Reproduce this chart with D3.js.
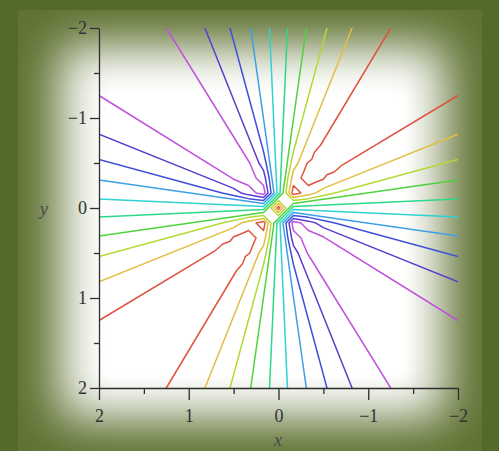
<!DOCTYPE html>
<html>
<head>
<meta charset="utf-8">
<script src="https://cdn.jsdelivr.net/npm/d3@7"></script>
<style>
  html, body { margin: 0; padding: 0; background: #546a2b; }
  svg { display: block; }
</style>
</head>
<body>
<svg id="chart" width="499" height="451"></svg>
<script>
// Contour levels (high to low) and the colour used for each level
const levels = [0.9, 0.7, 0.5, 0.3, 0.1, -0.1, -0.3, -0.5, -0.7, -0.9];
const levelColors = ["#de543f", "#e4bd3e", "#b2da34", "#4fd23e", "#2cd889",
                     "#2fd2d2", "#3da0e4", "#3d50da", "#5a3dd0", "#c052dc"];

// Axis ticks
const xTicks = [2, 1, 0, -1, -2];
const xMinorTicks = [1.5, 0.5, -0.5, -1.5];
const yTicks = [-2, -1, 0, 1, 2];
const yMinorTicks = [-1.5, -0.5, 0.5, 1.5];

// Contour polylines for each level, as [x, y] pairs in plot units
const lines09 = [
  [[-1.25, -2], [-0.47, -0.7], [-0.4, -0.62], [-0.37, -0.54], [-0.32, -0.5], [-0.28, -0.4],
   [-0.25, -0.333], [-0.333, -0.25], [-0.4, -0.28], [-0.5, -0.32], [-0.54, -0.37],
   [-0.62, -0.4], [-0.7, -0.47], [-2, -1.25]],
  [[-0.25, -0.167], [-0.167, -0.25], [-0.15, -0.167], [-0.167, -0.15], [-0.25, -0.167]],
  [[0.017, 0], [0, 0.017], [-0.017, 0], [0, -0.017], [0.017, 0]],
  [[1.25, 2], [0.47, 0.7], [0.4, 0.62], [0.37, 0.54], [0.32, 0.5], [0.28, 0.4],
   [0.25, 0.333], [0.333, 0.25], [0.4, 0.28], [0.5, 0.32], [0.54, 0.37],
   [0.62, 0.4], [0.7, 0.47], [2, 1.25]],
  [[0.25, 0.167], [0.167, 0.25], [0.15, 0.167], [0.167, 0.15], [0.25, 0.167]]
];
const lines07 = [
  [[-2, -0.82], [-0.5, -0.218], [-0.417, -0.167], [-0.333, -0.146], [-0.167, -0.117],
   [-0.117, -0.167], [-0.146, -0.333], [-0.167, -0.417], [-0.218, -0.5], [-0.82, -2]],
  [[2, 0.82], [0.5, 0.218], [0.417, 0.167], [0.333, 0.146], [0.167, 0.117],
   [0.117, 0.167], [0.146, 0.333], [0.167, 0.417], [0.218, 0.5], [0.82, 2]],
  [[0.05, 0], [0, 0.05], [-0.05, 0], [0, -0.05], [0.05, 0]]
];
const lines05 = [
  [[-2, -0.54], [-0.628, -0.167], [-0.5, -0.139], [-0.333, -0.104], [-0.167, -0.083],
   [-0.083, -0.167], [-0.104, -0.333], [-0.139, -0.5], [-0.167, -0.628], [-0.54, -2]],
  [[2, 0.54], [0.628, 0.167], [0.5, 0.139], [0.333, 0.104], [0.167, 0.083],
   [0.083, 0.167], [0.104, 0.333], [0.139, 0.5], [0.167, 0.628], [0.54, 2]],
  [[0.083, 0], [0, 0.083], [-0.083, 0], [0, -0.083], [0.083, 0]]
];
const lines03 = [
  [[-2, -0.31], [-0.167, -0.05], [-0.117, 0], [0, 0.117], [0.05, 0.167], [0.31, 2]],
  [[2, 0.31], [0.167, 0.05], [0.117, 0], [0, -0.117], [-0.05, -0.167], [-0.31, -2]]
];
const lines01 = [
  [[-2, -0.1], [-0.167, -0.017], [-0.15, 0], [0, 0.15], [0.017, 0.167], [0.1, 2]],
  [[2, 0.1], [0.167, 0.017], [0.15, 0], [0, -0.15], [-0.017, -0.167], [-0.1, -2]]
];
const linesM01 = [
  [[2, -0.1], [0.167, -0.017], [0.017, -0.167], [0.1, -2]],
  [[-2, 0.1], [-0.167, 0.017], [-0.017, 0.167], [-0.1, 2]]
];
const linesM03 = [
  [[2, -0.31], [0.167, -0.05], [0.05, -0.167], [0.31, -2]],
  [[-2, 0.31], [-0.167, 0.05], [-0.05, 0.167], [-0.31, 2]]
];
const linesM05 = [
  [[2, -0.54], [0.628, -0.167], [0.5, -0.139], [0.333, -0.104], [0.167, -0.083],
   [0.083, -0.167], [0.104, -0.333], [0.139, -0.5], [0.167, -0.628], [0.54, -2]],
  [[-2, 0.54], [-0.628, 0.167], [-0.5, 0.139], [-0.333, 0.104], [-0.167, 0.083],
   [-0.083, 0.167], [-0.104, 0.333], [-0.139, 0.5], [-0.167, 0.628], [-0.54, 2]]
];
const linesM07 = [
  [[2, -0.82], [0.5, -0.218], [0.417, -0.167], [0.333, -0.146], [0.167, -0.117],
   [0.117, -0.167], [0.146, -0.333], [0.167, -0.417], [0.218, -0.5], [0.82, -2]],
  [[-2, 0.82], [-0.5, 0.218], [-0.417, 0.167], [-0.333, 0.146], [-0.167, 0.117],
   [-0.117, 0.167], [-0.146, 0.333], [-0.167, 0.417], [-0.218, 0.5], [-0.82, 2]]
];
const linesM09 = [
  [[2, -1.25], [0.5, -0.32], [0.333, -0.25], [0.25, -0.167], [0.167, -0.15],
   [0.15, -0.167], [0.167, -0.25], [0.25, -0.333], [0.32, -0.5], [1.25, -2]],
  [[-2, 1.25], [-0.5, 0.32], [-0.333, 0.25], [-0.25, 0.167], [-0.167, 0.15],
   [-0.15, 0.167], [-0.167, 0.25], [-0.25, 0.333], [-0.32, 0.5], [-1.25, 2]]
];
const levelLines = [lines09, lines07, lines05, lines03, lines01,
                    linesM01, linesM03, linesM05, linesM07, linesM09];

const W = 499, H = 451;
const svg = d3.select("#chart");

// ---- framed, glowing background ----
const defs = svg.append("defs");
defs.append("filter").attr("id", "glow")
  .attr("x", "-50%").attr("y", "-50%").attr("width", "200%").attr("height", "200%")
  .append("feGaussianBlur").attr("stdDeviation", 24);
defs.append("filter").attr("id", "soft")
  .attr("x", "-20%").attr("y", "-20%").attr("width", "140%").attr("height", "140%")
  .append("feGaussianBlur").attr("stdDeviation", 5);
defs.append("clipPath").attr("id", "panelClip")
  .append("rect").attr("x", 18).attr("y", 10).attr("width", 464).attr("height", 441);

svg.append("rect").attr("width", W).attr("height", H).attr("fill", "#546a2b");
const panel = svg.append("g").attr("clip-path", "url(#panelClip)");
panel.append("rect").attr("x", 18).attr("y", 10).attr("width", 464).attr("height", 441)
  .attr("fill", "#5f7232");
panel.append("rect").attr("x", 60).attr("y", 46).attr("width", 385).attr("height", 372)
  .attr("fill", "#ffffff").attr("filter", "url(#glow)");
panel.append("rect").attr("x", 102).attr("y", 92).attr("width", 306).attr("height", 286)
  .attr("fill", "#ffffff").attr("filter", "url(#soft)");

// ---- scales ----
const x = d3.scaleLinear().domain([2, -2]).range([99, 458]);
const y = d3.scaleLinear().domain([-2, 2]).range([28, 388]);

// ---- contour lines ----
defs.append("clipPath").attr("id", "plotClip")
  .append("rect").attr("x", 99).attr("y", 28).attr("width", 359).attr("height", 360);

const line = d3.line().x(d => x(d[0])).y(d => y(d[1]));
const plot = svg.append("g").attr("clip-path", "url(#plotClip)");
levels.forEach((lv, i) => {
  plot.append("g").attr("class", "level")
    .selectAll("path").data(levelLines[i]).join("path")
    .attr("d", line)
    .attr("fill", "none")
    .attr("stroke", levelColors[i])
    .attr("stroke-width", 1.5)
    .attr("stroke-linejoin", "round")
    .attr("stroke-linecap", "round");
});

// ---- axes ----
const fontFamily = "'Liberation Serif', 'Times New Roman', serif";
const axisInk = "#2e2e2e";

function styleAxis(g) {
  g.attr("font-family", fontFamily).attr("font-size", 18);
  g.selectAll("path.domain").attr("stroke", axisInk).attr("stroke-width", 1.3);
  g.selectAll(".tick line").attr("stroke", axisInk).attr("stroke-width", 1.3);
  g.selectAll(".tick text").attr("fill", "#333333");
}

svg.append("g").attr("transform", "translate(0,388)")
  .call(d3.axisBottom(x).tickValues(xMinorTicks).tickSize(6).tickSizeOuter(0).tickFormat(""))
  .call(g => g.select(".domain").remove())
  .call(styleAxis);
svg.append("g").attr("transform", "translate(0,388)")
  .call(d3.axisBottom(x).tickValues(xTicks).tickSize(12).tickSizeOuter(0).tickPadding(9)
        .tickFormat(d3.format("d")))
  .call(styleAxis);

svg.append("g").attr("transform", "translate(99,0)")
  .call(d3.axisLeft(y).tickValues(yMinorTicks).tickSize(5).tickSizeOuter(0).tickFormat(""))
  .call(g => g.select(".domain").remove())
  .call(styleAxis);
svg.append("g").attr("transform", "translate(99,0)")
  .call(d3.axisLeft(y).tickValues(yTicks).tickSize(9).tickSizeOuter(0).tickPadding(3)
        .tickFormat(d3.format("d")))
  .call(styleAxis);

// ---- axis titles ----
svg.append("text").attr("x", 278).attr("y", 446)
  .attr("text-anchor", "middle")
  .attr("font-family", fontFamily).attr("font-style", "italic").attr("font-size", 19)
  .attr("fill", "#4a4a4a").text("x");
svg.append("text").attr("x", 44).attr("y", 215)
  .attr("text-anchor", "middle")
  .attr("font-family", fontFamily).attr("font-style", "italic").attr("font-size", 19)
  .attr("fill", "#4a4a4a").text("y");
</script>
</body>
</html>
